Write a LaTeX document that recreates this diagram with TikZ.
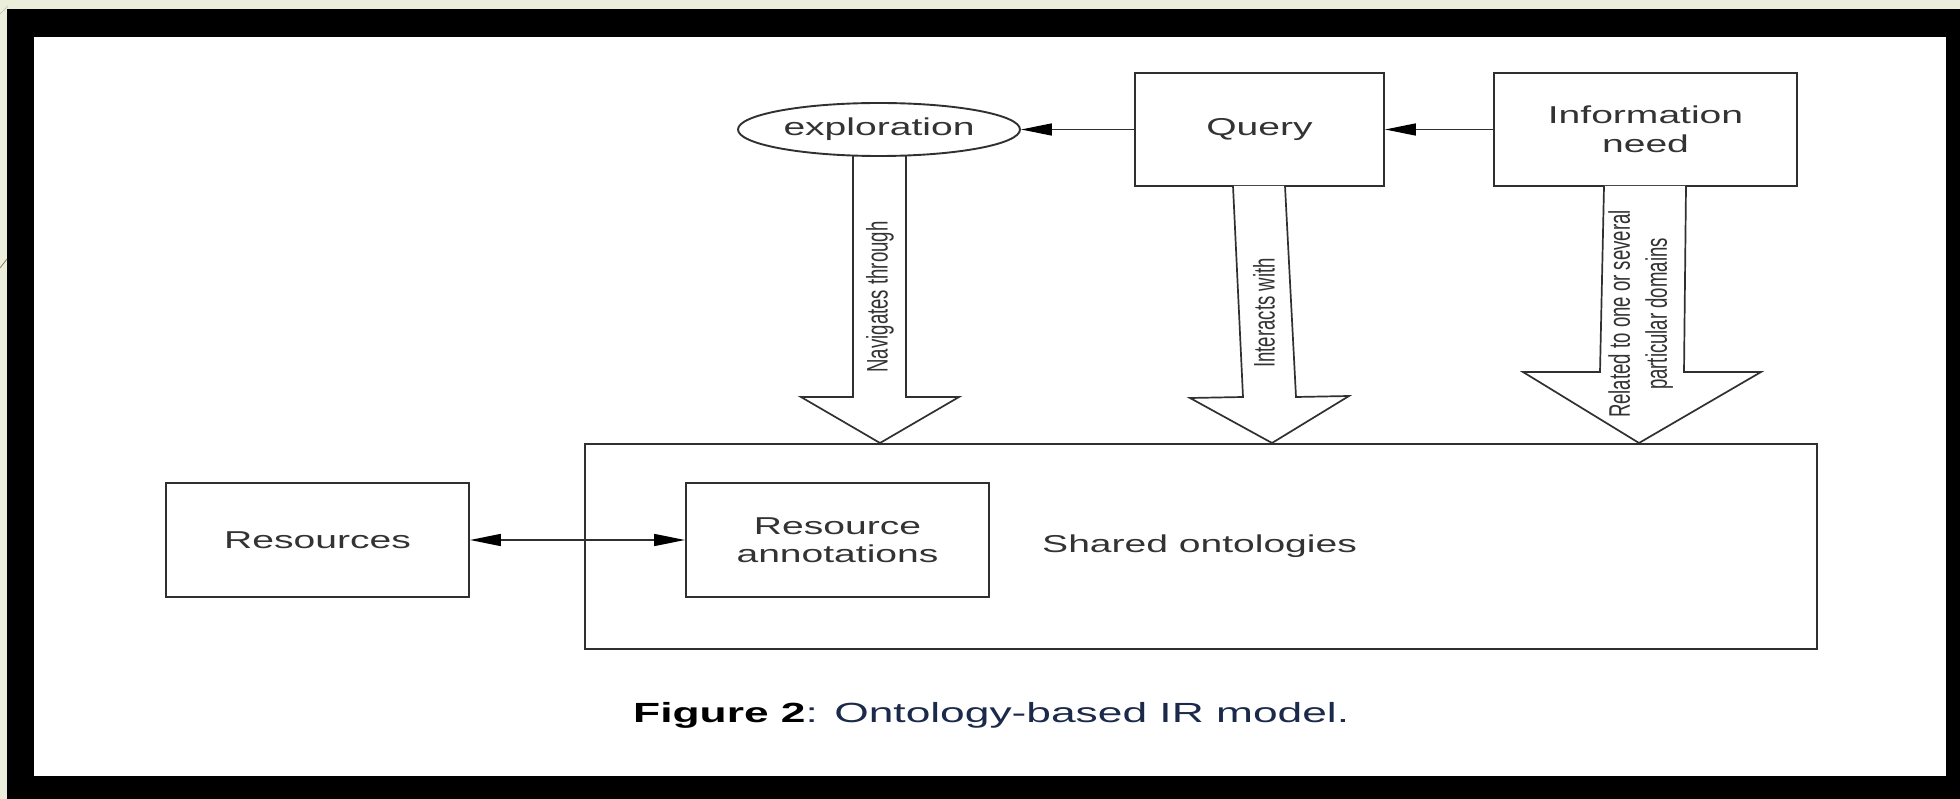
\documentclass[tikz,border=0pt]{standalone}
\usepackage{fontspec}
\setmainfont{Liberation Sans}
\usepackage{graphicx}
\usetikzlibrary{shapes.geometric,arrows.meta}
\definecolor{bggreen}{HTML}{EAEEDA}
\definecolor{ln}{HTML}{303030}
\definecolor{tx}{HTML}{333333}
\definecolor{capblue}{HTML}{1B2A4A}
\definecolor{deco}{HTML}{8A7A60}
\newcommand{\hs}[1]{\scalebox{1.6}[1]{#1}}
\newcommand{\vs}[1]{\scalebox{1.6}[1]{\rotatebox{90}{#1}}}
\begin{document}
\begin{tikzpicture}[x=1pt,y=-1pt,
  box/.style={draw=ln,line width=1.9pt,rectangle,inner sep=0pt,text=tx,align=center,font=\fontsize{24.4}{28.5}\selectfont},
  tipstyle/.style={Triangle[length=31pt,width=12pt,fill=black,color=black]},
  arr/.style={draw=ln,line width=1.5pt,-{Triangle[length=31pt,width=12pt,fill=black,color=black]}},
  darr/.style={draw=ln,line width=1.5pt,{Triangle[length=31pt,width=12pt,fill=black,color=black]}-{Triangle[length=31pt,width=12pt,fill=black,color=black]}},
  hollow/.style={draw=ln,line width=1.7pt,fill=white,line join=miter},
  rlab/.style={inner sep=0pt,text=tx,font=\fontsize{18.6}{23}\selectfont},
  plain/.style={inner sep=0pt,text=tx,font=\fontsize{24.4}{28.5}\selectfont}]
\useasboundingbox (0,0) rectangle (1960,799);
\fill[bggreen] (0,0) rectangle (1960,799);
\fill[black] (7,9) rectangle (1960,799);
\fill[white] (34,37) rectangle (1946,776);
\draw[deco,line width=0.8pt] (0,268) -- (7,259);
\draw[deco!50,line width=0.6pt] (0,14) -- (8,6);

% nodes
\node[box,minimum width=303pt,minimum height=114pt] (res) at (317.5,540) {\hs{Resources}};
\node[box,minimum width=1232pt,minimum height=205pt] (shared) at (1201,546.5) {};
\node[plain,anchor=west] (sharedlbl) at (1042,546) {\hs{Shared ontologies}};
\node[box,minimum width=303pt,minimum height=114pt] (ann) at (837.5,540) {\hs{Resource}\\\hs{annotations}};
\node[box,minimum width=249pt,minimum height=113pt] (query) at (1259.5,129.5) {\hs{Query}};
\node[box,minimum width=303pt,minimum height=113pt] (info) at (1645.5,129.5) {\hs{Information}\\\hs{need}};

% hollow arrows
\draw[hollow] (853,155) -- (853,397) -- (801,397) -- (880,443) -- (959,397) -- (906,397) -- (906,155);
\draw[hollow] (1233,186) -- (1243,397) -- (1190,398) -- (1272,443) -- (1349,396) -- (1296,397) -- (1285,186);
\draw[hollow] (1604,186) -- (1600,372) -- (1523,372) -- (1639,443) -- (1761,372) -- (1684,372) -- (1686,186);

\node[box,ellipse,fill=white,minimum width=282pt,minimum height=53pt] (expl) at (879,129.5) {\hs{exploration}};

\node[rlab] (navlbl) at (880,297) {\vs{Navigates through}};
\node[rlab] (intlbl) at (1264,313) {\vs{Interacts with}};
\node[rlab] (rellbl) at (1641,314) {\vs{\begin{tabular}{@{}c@{}}Related to one or several\\particular domains\end{tabular}}};

% connectors
\draw[arr] (info.west) -- (query.east);
\draw[arr] (query.west) -- (expl.east);
\draw[darr] (res.east) -- (ann.west);

% caption
\node[anchor=base west,inner sep=0pt,font=\fontsize{27.7}{32}\selectfont] (cap) at (633,722) {\hs{\textbf{Figure 2}\textcolor{capblue}{: Ontology-based IR model.}}};
\end{tikzpicture}
\end{document}
